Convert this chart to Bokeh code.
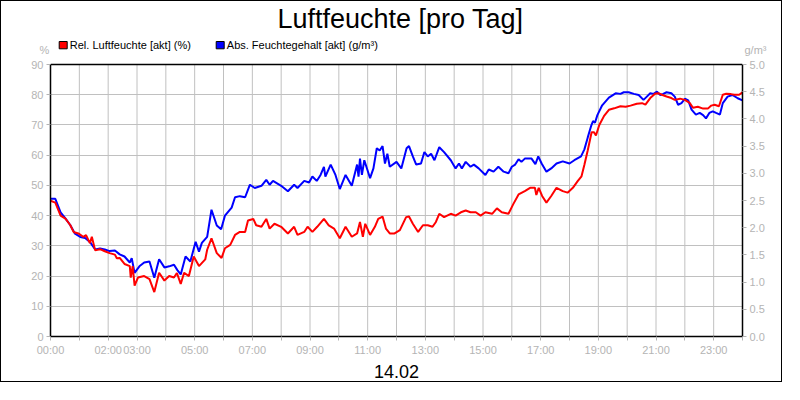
from bokeh.plotting import figure
from bokeh.models import (Range1d, LinearAxis, FixedTicker, Label, Span, BoxAnnotation,
                          NumeralTickFormatter)
from bokeh.embed import file_html
from bokeh.resources import INLINE

# ---------------- data (minutes since 00:00) ----------------
rel_minutes = [
    0, 10, 21, 31, 41, 48, 58, 68, 74, 82,
    86, 93, 103, 113, 123, 134, 138, 144, 154, 165,
    167, 171, 175, 182, 195, 206, 216, 226, 237, 247,
    257, 263, 271, 278, 288, 298, 309, 322, 326, 335,
    346, 356, 363, 374, 384, 394, 405, 411, 422, 428,
    439, 449, 456, 466, 480, 494, 507, 514, 528, 535,
    545, 555, 569, 579, 590, 602, 614, 627, 638, 644,
    650, 655, 665, 675, 682, 691, 698, 706, 716, 727,
    740, 746, 754, 765, 775, 785, 795, 802, 809, 819,
    833, 843, 854, 864, 874, 885, 895, 905, 919, 929,
    939, 953, 963, 974, 987, 998, 1008, 1011, 1016, 1023,
    1032, 1042, 1053, 1066, 1076, 1087, 1097, 1105, 1111, 1118,
    1126, 1131, 1135, 1142, 1152, 1162, 1173, 1186, 1197, 1207,
    1220, 1231, 1238, 1248, 1258, 1265, 1272, 1282, 1292, 1299,
    1310, 1320, 1330, 1337, 1347, 1358, 1368, 1375, 1382, 1391,
    1399, 1406, 1416, 1423, 1433, 1440,
]
rel_humidity = [
    44.9, 44.3, 40.0, 39.0, 36.9, 34.6, 34.1, 33.0, 33.5, 30.9,
    33.0, 28.5, 28.9, 28.2, 27.6, 27.1, 25.9, 26.0, 24.0, 23.3,
    19.5, 23.3, 16.8, 19.5, 20.0, 19.0, 14.7, 21.1, 18.5, 20.0,
    19.5, 21.0, 17.4, 21.1, 20.0, 26.5, 23.3, 25.5, 28.7, 32.5,
    27.6, 26.0, 29.2, 30.3, 33.6, 34.6, 34.6, 38.4, 38.9, 36.8,
    36.3, 38.9, 35.7, 37.3, 36.3, 34.1, 36.3, 33.6, 34.6, 36.3,
    34.6, 36.3, 38.9, 36.8, 35.7, 32.5, 36.3, 33.0, 34.1, 37.9,
    33.0, 37.3, 33.6, 36.3, 38.9, 39.7, 35.7, 34.1, 34.1, 35.2,
    39.5, 39.7, 37.3, 34.6, 36.8, 36.8, 36.3, 37.9, 40.6, 39.5,
    40.6, 40.0, 41.1, 41.7, 41.1, 41.1, 40.0, 41.1, 40.6, 42.4,
    41.1, 40.6, 43.8, 47.0, 48.1, 49.2, 49.2, 46.8, 49.2, 46.5,
    44.3, 46.5, 49.2, 48.1, 47.6, 49.2, 51.4, 53.0, 56.8, 61.6,
    67.6, 67.6, 66.5, 70.0, 73.0, 75.0, 75.5, 76.2, 76.0, 76.4,
    77.0, 77.2, 76.7, 78.9, 80.3, 80.5, 80.0, 79.4, 78.9, 78.3,
    78.7, 78.3, 77.3, 75.7, 76.0, 75.4, 75.4, 76.4, 76.7, 76.2,
    80.0, 80.3, 80.2, 80.0, 80.0, 80.8,
]
abs_minutes = [
    0, 10, 21, 31, 41, 51, 62, 72, 82, 93,
    103, 113, 123, 134, 144, 154, 165, 169, 175, 185,
    195, 206, 216, 226, 237, 247, 257, 264, 271, 281,
    291, 302, 309, 315, 326, 335, 346, 355, 363, 377,
    384, 394, 405, 415, 425, 439, 449, 456, 463, 480,
    494, 507, 514, 528, 538, 545, 554, 562, 569, 572,
    583, 593, 602, 614, 627, 638, 641, 644, 648, 653,
    665, 672, 679, 685, 691, 696, 701, 706, 720, 730,
    741, 746, 754, 761, 771, 778, 785, 792, 799, 809,
    819, 833, 843, 850, 856, 864, 874, 881, 891, 905,
    912, 922, 932, 943, 953, 960, 967, 974, 980, 987,
    1001, 1009, 1015, 1022, 1032, 1042, 1053, 1066, 1080, 1090,
    1104, 1111, 1118, 1125, 1129, 1133, 1138, 1148, 1162, 1176,
    1186, 1193, 1203, 1214, 1224, 1234, 1241, 1248, 1255, 1262,
    1269, 1275, 1282, 1292, 1299, 1306, 1313, 1320, 1327, 1334,
    1343, 1351, 1358, 1364, 1371, 1378, 1385, 1393, 1399, 1409,
    1419, 1430, 1440,
]
abs_humidity = [
    2.53, 2.53, 2.28, 2.17, 2.05, 1.89, 1.83, 1.81, 1.74, 1.60,
    1.62, 1.60, 1.57, 1.58, 1.51, 1.47, 1.36, 1.44, 1.17, 1.29,
    1.36, 1.38, 1.08, 1.42, 1.27, 1.29, 1.32, 1.22, 1.14, 1.47,
    1.38, 1.74, 1.56, 1.72, 1.83, 2.33, 2.04, 1.97, 2.22, 2.37,
    2.56, 2.58, 2.56, 2.79, 2.73, 2.77, 2.88, 2.79, 2.86, 2.77,
    2.67, 2.79, 2.73, 2.86, 2.83, 2.94, 2.86, 2.97, 3.12, 2.94,
    3.16, 2.97, 2.71, 2.97, 2.77, 3.16, 2.94, 3.27, 2.97, 3.24,
    2.91, 3.09, 3.46, 3.42, 3.50, 3.18, 3.36, 3.12, 3.21, 3.09,
    3.46, 3.50, 3.31, 3.16, 3.18, 3.39, 3.31, 3.36, 3.24, 3.48,
    3.39, 3.24, 3.09, 3.18, 3.09, 3.21, 3.12, 3.16, 3.09, 2.97,
    3.07, 3.03, 3.12, 3.03, 3.00, 3.12, 3.16, 3.26, 3.21, 3.27,
    3.27, 3.17, 3.31, 3.18, 3.03, 3.09, 3.18, 3.22, 3.18, 3.24,
    3.31, 3.44, 3.66, 3.87, 3.96, 3.93, 4.07, 4.25, 4.39, 4.47,
    4.46, 4.49, 4.49, 4.46, 4.44, 4.35, 4.41, 4.47, 4.46, 4.50,
    4.44, 4.46, 4.49, 4.47, 4.41, 4.26, 4.29, 4.37, 4.34, 4.17,
    4.08, 4.11, 4.07, 4.01, 4.11, 4.14, 4.11, 4.08, 4.29, 4.41,
    4.44, 4.38, 4.34,
]
hour_ticks = [h * 60 for h in range(25)]
hour_labels = ["00:00", "", "02:00", "03:00", "", "05:00", "", "07:00", "", "09:00",
               "", "11:00", "", "13:00", "", "15:00", "", "17:00", "", "19:00",
               "", "21:00", "", "23:00", ""]
rel_ticks = [0, 10, 20, 30, 40, 50, 60, 70, 80, 90]
abs_ticks = [0.0, 0.5, 1.0, 1.5, 2.0, 2.5, 3.0, 3.5, 4.0, 4.5, 5.0]
x_max = 1440
rel_max = 90
abs_max = 5.0

title_text = "Luftfeuchte [pro Tag]"
date_text = "14.02"
rel_name = "Rel. Luftfeuchte [akt] (%)"
abs_name = "Abs. Feuchtegehalt [akt] (g/m³)"
rel_unit = "%"
abs_unit = "g/m³"

FONT = "Liberation Sans"
TICK_GRAY = "#b4b4b4"
GRID_GRAY = "#c0c0c0"

# ---------------- geometry (pixels, canvas; a 1px CSS border surrounds it) ----------------
W, H = 782, 382
LEFT, RIGHT = 49, 741          # plot area left/right
PLOT_TOP, BOTTOM = 63, 335     # top of value area, bottom axis
frame_h = BOTTOM                # frame runs from the top edge to the bottom axis
plot_h = BOTTOM - PLOT_TOP
y_top = rel_max * frame_h / plot_h
abs_top = abs_max * frame_h / plot_h

def dx(px):   # canvas x pixel -> minutes
    return (px - LEFT) * x_max / (RIGHT - LEFT)

def dy(py):   # canvas y pixel -> % scale
    return (BOTTOM - py) * rel_max / plot_h

p = figure(width=W, height=H, output_backend="svg", toolbar_location=None,
           x_range=Range1d(0, x_max), y_range=Range1d(0, y_top),
           min_border_left=LEFT, min_border_right=W - RIGHT, min_border_top=0,
           min_border_bottom=H - BOTTOM, x_axis_location=None, y_axis_location=None)
p.styles = {"border": "1px solid black"}
p.background_fill_color = "white"
p.border_fill_color = "white"
p.outline_line_color = None
p.extra_y_ranges = {"abs": Range1d(0, abs_top)}

def style_axis(ax):
    ax.axis_line_color = "black"
    ax.axis_line_width = 1.5
    ax.major_tick_line_color = TICK_GRAY
    ax.major_tick_out = 4
    ax.major_tick_in = 0
    ax.minor_tick_line_color = None
    ax.major_label_text_color = TICK_GRAY
    ax.major_label_text_font = FONT
    ax.major_label_text_font_size = "11px"
    ax.major_label_standoff = 3

xaxis = LinearAxis(ticker=FixedTicker(ticks=hour_ticks))
xaxis.major_label_overrides = {t: l for t, l in zip(hour_ticks, hour_labels)}
style_axis(xaxis)
p.add_layout(xaxis, "below")

yleft = LinearAxis(ticker=FixedTicker(ticks=rel_ticks), bounds=(0, rel_max))
style_axis(yleft)
p.add_layout(yleft, "left")

yright = LinearAxis(y_range_name="abs", ticker=FixedTicker(ticks=abs_ticks),
                    bounds=(0, abs_max), formatter=NumeralTickFormatter(format="0.0"))
style_axis(yright)
p.add_layout(yright, "right")

# grid: horizontal lines via the grid, vertical lines only inside the value area
p.xgrid.visible = False
p.ygrid.ticker = FixedTicker(ticks=rel_ticks)
p.ygrid.grid_line_color = GRID_GRAY
p.segment(x0=hour_ticks, y0=[0] * len(hour_ticks), x1=hour_ticks,
          y1=[rel_max] * len(hour_ticks), line_color=GRID_GRAY, line_width=1)
p.add_layout(Span(location=rel_max, dimension="width", line_color="black",
                  line_width=1.5))

p.line(abs_minutes, abs_humidity, color="#0000ff", line_width=2, y_range_name="abs")
p.line(rel_minutes, rel_humidity, color="#ff0000", line_width=2)

# Bokeh draws an "alphabetic" label about a third of an em lower than asked;
# shift each baseline up by that much.
def base(py, size):
    return dy(py - 0.33 * size)

# title and legend inside the frame's upper band
p.add_layout(Label(x=dx(399), y=base(26.3, 27), text=title_text,
                   text_align="center", text_baseline="alphabetic",
                   text_font=FONT, text_font_size="27px", text_color="black"))
for px, color, name in ((57.7, "#ff0000", rel_name), (214.7, "#0000ff", abs_name)):
    p.add_layout(BoxAnnotation(left=dx(px), right=dx(px + 8), top=dy(40), bottom=dy(47.3),
                               fill_color=color, fill_alpha=1.0,
                               line_color="black", line_width=1, line_alpha=1.0))
    p.add_layout(Label(x=dx(px + 10.6), y=base(47.5, 11), text=name,
                       text_align="left", text_baseline="alphabetic",
                       text_font=FONT, text_font_size="11px", text_color="black"))

# unit captions beside the frame and the date under the axis (side panels)
p.add_layout(Label(x=dx(743), y=base(52, 11), text=abs_unit,
                   text_align="left", text_baseline="alphabetic",
                   text_font=FONT, text_font_size="11px", text_color=TICK_GRAY), "left")
p.add_layout(Label(x=dx(38), y=base(52, 11), text=rel_unit,
                   text_align="left", text_baseline="alphabetic",
                   text_font=FONT, text_font_size="11px", text_color=TICK_GRAY), "right")
p.add_layout(Label(x=dx(395), y=base(376, 18), text=date_text,
                   text_align="center", text_baseline="alphabetic",
                   text_font=FONT, text_font_size="18px", text_color="black"), "below")

open("out.html", "w").write(file_html(p, INLINE))
